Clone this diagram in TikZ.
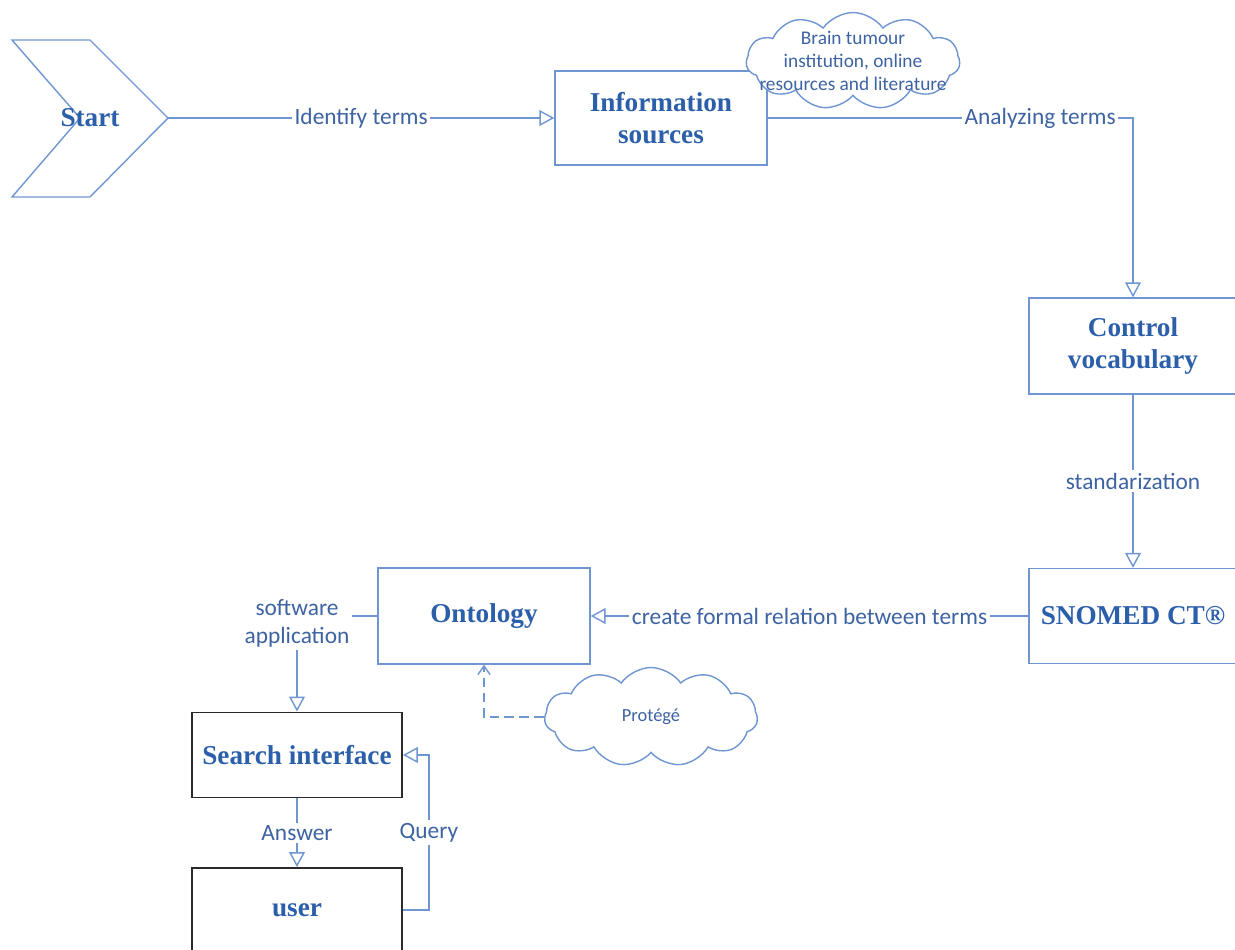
\documentclass[tikz,border=0pt]{standalone}
\usepackage{fontspec}
\setmainfont{Liberation Serif}
\newfontfamily\lblfont{Carlito}
\usetikzlibrary{arrows.meta,positioning,shapes.symbols}
\definecolor{edge}{HTML}{6F96D1}
\definecolor{ink}{HTML}{2C5FAA}
\definecolor{lbl}{HTML}{3D63A3}
\definecolor{frame}{HTML}{2A2A2A}
\tikzset{box/.style={draw=edge,line width=.8pt,fill=white,align=center,font=\bfseries\fontsize{15.5}{18.5}\selectfont,text=ink,minimum width=4.2cm,minimum height=1.9cm,inner sep=0pt},blackbox/.style={box,draw=frame,line width=1.1pt},flow/.style={-{Triangle[open,length=8.5pt,width=9pt]},line width=.8pt,draw=edge},tag/.style={font=\lblfont\fontsize{13.3}{16}\selectfont,text=lbl,fill=white,inner sep=1.5pt,align=center},puff/.style={cloud,cloud puffs=11,cloud puff arc=110,cloud ignores aspect,draw=edge,line width=.8pt,fill=white,align=center,text=lbl,inner sep=0pt,minimum width=4.26cm,minimum height=1.95cm}}
\begin{document}
\begin{tikzpicture}[x=.02cm,y=-.02cm]
\useasboundingbox (0,0) rectangle (1235,950);
% start chevron
\draw[edge,line width=.8pt](12,40)--(90,40)--(168,118)--(90,197)--(12,197)--(80,118)--cycle;
\node[font=\bfseries\fontsize{15.5}{18.5}\selectfont,text=ink](start)at(90,118){Start};
\coordinate(tip)at(168,118);
% boxes
\node[box,minimum width=4.24cm,minimum height=1.88cm](info)at(661,118){Information\\sources};
\node[box,minimum width=4.16cm,minimum height=1.92cm](ctrl)at(1133,346){Control\\vocabulary};
\node[box,minimum width=4.16cm,minimum height=1.9cm](snomed)at(1133,616){SNOMED CT®};
\node[box,minimum width=4.24cm,minimum height=1.92cm](onto)at(484,616){Ontology};
\node[blackbox,minimum height=1.7cm](search)at(297,755){Search interface};
\node[blackbox,minimum height=1.68cm](user)at(297,910){user};
% clouds
\node[puff,inner xsep=-10.5pt,inner ysep=-3.5pt,minimum height=1.94cm,font=\lblfont\fontsize{11}{13.3}\selectfont](sources)at(853,61){Brain tumour\\institution, online\\resources and literature};
\node[puff,minimum height=1.98cm,font=\lblfont\fontsize{10.5}{12}\selectfont](protege)at(651,717){Protégé};
% connectors
\draw[flow](tip)--node[tag]{Identify terms}(info.west);
\draw[flow](info.east)-|node[tag,pos=.373]{Analyzing terms}(ctrl.north);
\draw[flow](ctrl.south)--node[tag]{standarization}(snomed.north);
\draw[flow](snomed.west)--node[tag]{create formal relation between terms}(onto.east);
\draw[flow](onto.west)-|node[tag,pos=.5,yshift=-4pt]{software\\application}(search.north);
\draw[edge,line width=.8pt,dash pattern=on 5.5pt off 3pt,-{Straight Barb[length=5pt,width=7pt]}](protege.west)-|(onto.south);
\draw[flow](search.south)--node[tag]{Answer}(user.north);
\draw[flow](user.east)--++(26,0)coordinate(qbend)|-node[tag,pos=.25]{Query}(search.east);
\end{tikzpicture}
\end{document}
